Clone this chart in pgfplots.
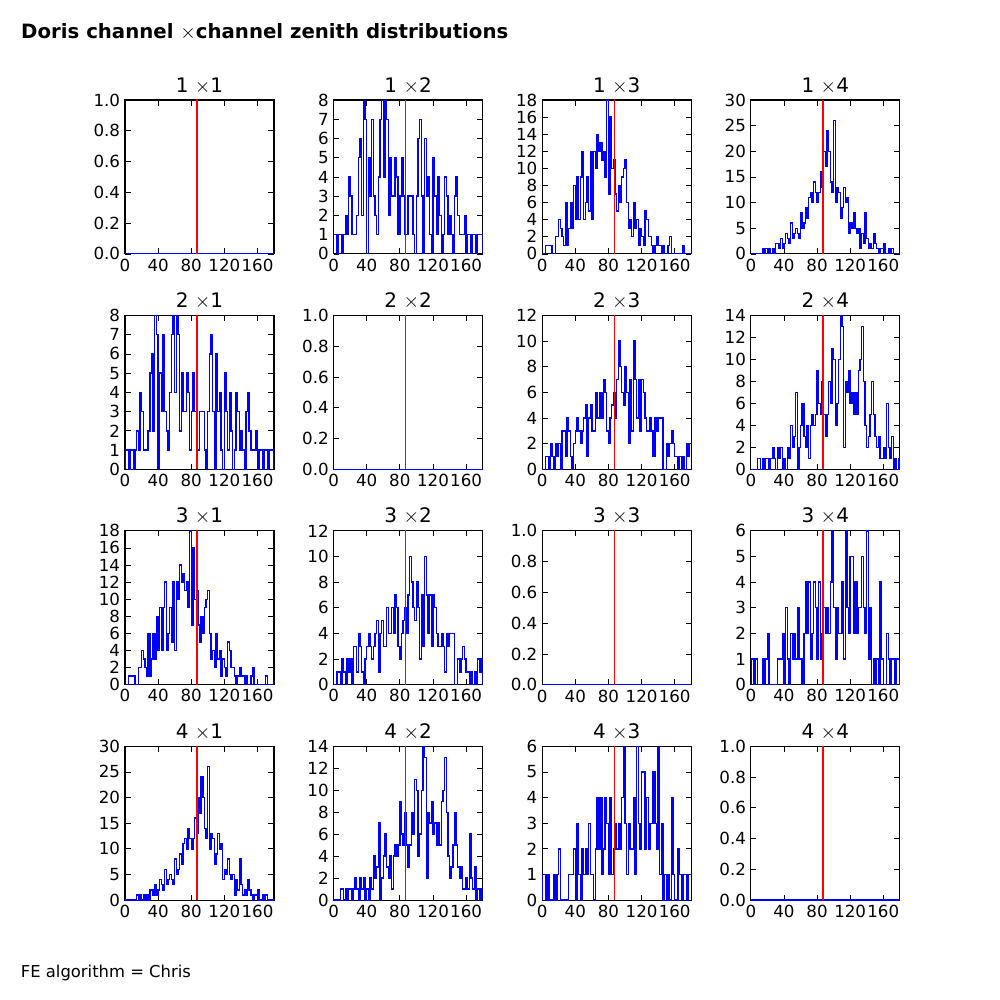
\documentclass[border=0pt]{standalone}
\usepackage{fontspec}
\setmainfont{DejaVu Sans}
\usepackage{pgfplots}
\pgfplotsset{compat=1.18}
\usepackage{pgfplotstable}
\usepgfplotslibrary{groupplots}

% zenith histograms, 2 deg bins; columns A..F are the six distinct channel pairs
\pgfplotstableread{
x   A  B  C  D  E  F
0   0  0  0  0  0  0
0   1  0  0  0  0  1
2   1  0  0  0  0  1
4   0  1  0  1  0  0
6   1  1  0  1  0  1
8   1  1  0  0  1  0
10  0  1  0  2  1  0
12  1  0  0  1  0  0
14  2  0  1  0  1  1
16  1  2  0  2  0  0
18  4  2  1  1  1  1
20  3  4  0  2  1  2
22  1  3  1  0  0  0
24  1  2  0  3  1  0
26  1  1  1  3  2  0
28  2  6  0  1  1  0
30  5  1  2  4  0  0
32  6  3  2  3  2  1
34  2  6  1  1  1  1
36  8  3  3  0  2  1
38  7  8  1  2  0  2
40  0  4  2  3  1  0
42  5  9  4  4  0  3
44  3  4  3  3  2  1
46  7  9  2  2  1  0
48  3  12 6  3  4  2
50  2  4  3  4  2  1
52  1  6  4  5  3  2
54  4  9  5  1  7  1
56  7  5  4  4  0  3
58  8  12 3  5  2  1
60  4  4  8  3  4  1
62  8  12 5  3  6  0
64  7  10 6  6  3  2
66  2  14 9  4  2  4
68  5  12 7  4  4  2
70  3  13 11 6  1  4
72  3  11 12 4  4  1
74  5  12 10 7  5  2
76  4  9  14 6  4  4
78  1  18 12 3  5  3
80  3  7  10 2  9  1
82  5  16 12 4  6  4
84  3  10 16 5  5  1
86  1  11 13 6  8  2
88  1  7  20 4  5  3
90  3  5  17 7  3  2
92  3  8  24 10 5  3
94  3  6  20 8  8  2
96  1  9  14 6  6  4
98  0  10 12 5  11 6
100 3  11 26 8  10 3
102 6  6  10 6  4  1
104 7  3  13 2  6  3
106 3  4  12 7  10 2
108 0  2  7  3  14 2
110 6  6  9  10 13 4
112 3  3  13 7  2  1
114 4  4  10 4  8  6
116 1  1  11 7  7  3
118 0  3  4  3  9  2
120 5  2  6  7  6  5
122 3  1  5  6  7  5
124 1  5  8  4  5  2
126 4  4  5  3  7  4
128 2  2  4  3  5  2
130 0  2  5  4  9  3
132 1  1  1  3  10 3
134 4  0  4  1  13 5
136 3  1  2  4  8  3
138 1  2  8  3  4  2
140 2  1  3  4  2  6
142 1  1  1  4  3  1
144 0  0  2  4  5  3
146 3  1  1  0  8  0
148 4  0  4  0  5  1
150 2  0  2  2  3  0
152 1  1  1  1  2  1
154 1  2  0  2  3  0
156 1  0  1  3  1  4
158 2  0  1  2  1  1
160 0  0  2  1  2  0
162 1  0  0  1  1  0
164 1  0  0  0  6  2
166 0  0  1  1  2  1
168 1  0  0  0  1  0
170 1  1  1  1  3  1
172 0  0  0  0  0  1
174 1  0  0  2  1  0
176 1  0  0  1  0  1
178 1  0  0  2  1  1
180 0  0  0  0  0  0
}\zen

\pgfplotsset{
  zen/.style={
    scale only axis, width=107.3pt, height=110.8pt,
    xmin=0, xmax=180, ymin=0,
    xtick={0,40,80,120,160},
    tick align=inside, major tick length=4pt,
    tick style={black, line width=0.5pt},
    axis line style={line width=0.8pt},
    every tick label/.append style={font=\fontsize{12}{14}\selectfont},
    /pgf/number format/assume math mode=true,
    title style={font=\fontsize{14.4}{17}\selectfont, yshift=-5pt},
  },
  hist/.style={blue, line width=1pt, const plot mark left, no marks},
  vline/.style={red, line width=1pt, no marks},
  empty/.style={ymax=1, ytick={0,0.2,0.4,0.6,0.8,1},
    yticklabel style={/pgf/number format/.cd, fixed, fixed zerofill, precision=1}},
}

\newcommand{\histo}[1]{\addplot[hist] table[x=x, y=#1] {\zen};}
\newcommand{\nohisto}{\addplot[hist] coordinates {(0,0) (180,0)};}
\newcommand{\ninety}{\addplot[vline] coordinates {(87,0) (87,100)};}

\begin{document}
\begin{tikzpicture}
\begin{groupplot}[
  group style={group name=g, group size=4 by 4,
    horizontal sep=42.9pt, vertical sep=44.3pt},
  zen]
% row 1
\nextgroupplot[title={1 $\times$1}, empty]
\nohisto \ninety
\nextgroupplot[title={1 $\times$2}, ymax=8, ytick={0,1,...,8}]
\histo{A} \ninety
\nextgroupplot[title={1 $\times$3}, ymax=18, ytick={0,2,...,18}]
\histo{B} \ninety
\nextgroupplot[title={1 $\times$4}, ymax=30, ytick={0,5,...,30}]
\histo{C} \ninety
% row 2
\nextgroupplot[title={2 $\times$1}, ymax=8, ytick={0,1,...,8}]
\histo{A} \ninety
\nextgroupplot[title={2 $\times$2}, empty]
\nohisto \ninety
\nextgroupplot[title={2 $\times$3}, ymax=12, ytick={0,2,...,12}]
\histo{D} \ninety
\nextgroupplot[title={2 $\times$4}, ymax=14, ytick={0,2,...,14}]
\histo{E} \ninety
% row 3
\nextgroupplot[title={3 $\times$1}, ymax=18, ytick={0,2,...,18}]
\histo{B} \ninety
\nextgroupplot[title={3 $\times$2}, ymax=12, ytick={0,2,...,12}]
\histo{D} \ninety
\nextgroupplot[title={3 $\times$3}, empty]
\nohisto \ninety
\nextgroupplot[title={3 $\times$4}, ymax=6, ytick={0,1,...,6}]
\histo{F} \ninety
% row 4
\nextgroupplot[title={4 $\times$1}, ymax=30, ytick={0,5,...,30}]
\histo{C} \ninety
\nextgroupplot[title={4 $\times$2}, ymax=14, ytick={0,2,...,14}]
\histo{E} \ninety
\nextgroupplot[title={4 $\times$3}, ymax=6, ytick={0,1,...,6}]
\histo{F} \ninety
\nextgroupplot[title={4 $\times$4}, empty]
\nohisto \ninety
\end{groupplot}
\path[use as bounding box] (g c1r1.north west) ++(-90pt,72pt) rectangle ++(720pt,-720pt);
\node[anchor=base west, inner sep=0pt, font=\fontsize{14.2}{17}\selectfont\bfseries]
  at ([shift={(-74.9pt,44.3pt)}]g c1r1.north west) {Doris channel $\times$channel zenith distributions};
\node[anchor=base west, inner sep=0pt, font=\fontsize{11.8}{14}\selectfont]
  at ([shift={(-75.1pt,-632pt)}]g c1r1.north west) {FE algorithm = Chris};
\end{tikzpicture}
\end{document}
